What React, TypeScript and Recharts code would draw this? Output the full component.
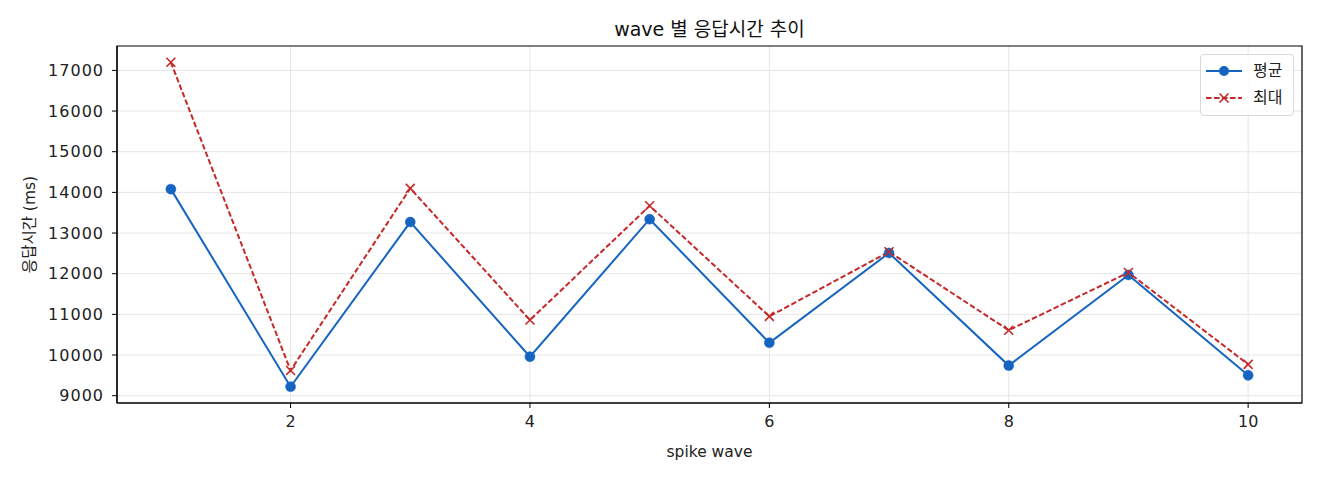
import { CartesianGrid, Line, LineChart, ReferenceArea, XAxis, YAxis } from "recharts";

// spike wave 번호
const waves = [1, 2, 3, 4, 5, 6, 7, 8, 9, 10];
// 평균 응답시간 (ms)
const avgMs = [14080, 9220, 13270, 9960, 13340, 10300, 12510, 9740, 11970, 9500];
// 최대 응답시간 (ms)
const maxMs = [17200, 9620, 14100, 10860, 13670, 10950, 12540, 10610, 12030, 9770];

const xTicks = [2, 4, 6, 8, 10];
const yTicks = [9000, 10000, 11000, 12000, 13000, 14000, 15000, 16000, 17000];
const xDomain = [0.55, 10.45];
const yDomain = [8820, 17600];

const BLUE = "#1565C0";
const RED = "#C62828";
const FONT = '"DejaVu Sans", "Noto Sans CJK KR", sans-serif';

const data = waves.map((w, i) => ({ wave: w, avg: avgMs[i], max: maxMs[i] }));

const XMark = (props: any) => {
  const { cx, cy, stroke } = props;
  if (cx == null || cy == null) return null;
  const s = 4.5;
  return (
    <path
      d={`M${cx - s},${cy - s}L${cx + s},${cy + s}M${cx - s},${cy + s}L${cx + s},${cy - s}`}
      stroke={stroke}
      strokeWidth={1.6}
      fill="none"
    />
  );
};

const legendRows = [
  { label: "평균", color: BLUE, dash: undefined, mark: "o" },
  { label: "최대", color: RED, dash: "5.5 2.5", mark: "x" },
];

const LegendBox = () => (
  <div
    style={{
      position: "absolute",
      left: 1200,
      top: 54,
      width: 92,
      height: 60,
      border: "1px solid #d9d9d9",
      borderRadius: 4,
      background: "rgba(255,255,255,0.8)",
      fontFamily: FONT,
      fontSize: 16,
      color: "#222",
    }}
  >
    {legendRows.map((r, i) => (
      <div key={r.label} style={{ display: "flex", alignItems: "center", height: 27, marginTop: i === 0 ? 2 : 0 }}>
        <svg width={40} height={14} style={{ marginLeft: 4 }}>
          <line x1={1} y1={7} x2={37} y2={7} stroke={r.color} strokeWidth={2} strokeDasharray={r.dash} />
          {r.mark === "o" ? (
            <circle cx={19} cy={7} r={5} fill={r.color} />
          ) : (
            <path d="M14.5,2.5L23.5,11.5M14.5,11.5L23.5,2.5" stroke={r.color} strokeWidth={1.6} />
          )}
        </svg>
        <span style={{ marginLeft: 8, lineHeight: "20px" }}>{r.label}</span>
      </div>
    ))}
  </div>
);

export default function App() {
  return (
    <div style={{ position: "absolute", left: 0, top: 0, width: 1320, height: 480, fontFamily: FONT, background: "#fff" }}>
      <div
        style={{
          position: "absolute",
          left: 0,
          width: 1419,
          top: 16,
          textAlign: "center",
          fontSize: 19,
          color: "#111",
          lineHeight: "26px",
        }}
      >
        wave 별 응답시간 추이
      </div>
      <LineChart width={1320} height={480} data={data} margin={{ top: 46, right: 18, left: 57, bottom: 37 }}>
        <CartesianGrid stroke="#e6e6e6" strokeWidth={1} horizontalValues={yTicks} verticalValues={xTicks} />
        <XAxis
          dataKey="wave"
          type="number"
          domain={xDomain}
          ticks={xTicks}
          allowDataOverflow
          height={40}
          tickSize={5}
          tickMargin={8}
          tick={{ fontSize: 16, fill: "#222" }}
          axisLine={{ stroke: "#000", strokeWidth: 1.2 }}
          tickLine={{ stroke: "#000" }}
          label={{
            content: ({ viewBox }: any) => (
              <text x={viewBox.x + viewBox.width / 2} y={457} textAnchor="middle" fontSize={15.5} fill="#222">
                spike wave
              </text>
            ),
          }}
        />
        <YAxis
          type="number"
          domain={yDomain}
          ticks={yTicks}
          allowDataOverflow
          width={60}
          tickSize={5}
          tickMargin={8}
          tick={{ fontSize: 16, fill: "#222", letterSpacing: 1 }}
          axisLine={{ stroke: "#000", strokeWidth: 1.2 }}
          tickLine={{ stroke: "#000" }}
          label={{
            content: ({ viewBox }: any) => {
              const cy = viewBox.y + viewBox.height / 2;
              return (
                <text x={30} y={cy} textAnchor="middle" dominantBaseline="central" fontSize={15.5} fill="#222" transform={`rotate(-90, 30, ${cy})`}>
                  응답시간 (ms)
                </text>
              );
            },
          }}
        />
        {/* plot frame */}
        <ReferenceArea
          x1={xDomain[0]}
          x2={xDomain[1]}
          y1={yDomain[0]}
          y2={yDomain[1]}
          fill="none"
          fillOpacity={0}
          stroke="#000"
          strokeWidth={1.2}
          strokeOpacity={1}
          ifOverflow="visible"
        />
        <Line
          dataKey="avg"
          name="평균"
          stroke={BLUE}
          strokeWidth={2}
          dot={{ r: 5, fill: BLUE, stroke: BLUE, strokeWidth: 0.5 }}
          activeDot={false}
          isAnimationActive={false}
        />
        <Line
          dataKey="max"
          name="최대"
          stroke={RED}
          strokeWidth={2}
          strokeDasharray="5.5 2.5"
          dot={<XMark />}
          activeDot={false}
          isAnimationActive={false}
        />
      </LineChart>
      <LegendBox />
    </div>
  );
}
